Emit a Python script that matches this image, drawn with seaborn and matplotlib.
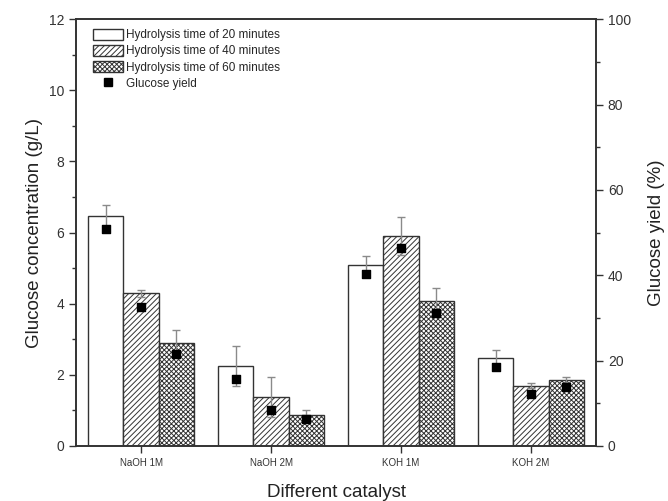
import matplotlib
matplotlib.use("Agg")
import matplotlib.pyplot as plt
from matplotlib.lines import Line2D
from matplotlib.patches import Patch
from matplotlib.ticker import MultipleLocator
import numpy as np
import pandas as pd
import seaborn as sns

catalysts = ["NaOH 1M", "NaOH 2M", "KOH 1M", "KOH 2M"]
times = ["Hydrolysis time of 20 minutes", "Hydrolysis time of 40 minutes",
         "Hydrolysis time of 60 minutes"]

# glucose concentration (g/L), one list per hydrolysis time
conc_20 = [6.46, 2.26, 5.10, 2.47]
conc_40 = [4.29, 1.38, 5.90, 1.70]
conc_60 = [2.89, 0.88, 4.08, 1.85]

# standard deviations
err_20 = [0.31, 0.56, 0.25, 0.22]
err_40 = [0.10, 0.57, 0.54, 0.06]
err_60 = [0.37, 0.13, 0.35, 0.09]

# glucose yield (%)
yield_20 = [50.8, 15.7, 40.3, 18.6]
yield_40 = [32.6, 8.4, 46.3, 12.2]
yield_60 = [21.5, 6.3, 31.1, 13.8]

hatches = ["", "//////", "xxxxxxx"]

df = pd.DataFrame({
    "catalyst": catalysts * 3,
    "time": np.repeat(times, len(catalysts)),
    "conc": conc_20 + conc_40 + conc_60,
    "err": err_20 + err_40 + err_60,
    "yield": yield_20 + yield_40 + yield_60,
})

sns.set_theme(style="ticks")
plt.rcParams["font.family"] = ["Liberation Sans", "DejaVu Sans"]
plt.rcParams["hatch.color"] = "#555555"
plt.rcParams["hatch.linewidth"] = 0.7

fig = plt.figure(figsize=(6.68, 5.01), dpi=100)
ax = fig.add_axes([0.1138, 0.1098, 0.7784, 0.852])

sns.barplot(data=df, x="catalyst", y="conc", hue="time", order=catalysts,
            hue_order=times, errorbar=None, width=0.81,
            palette=["white"] * 3, edgecolor="#333333", linewidth=1.0,
            legend=False, ax=ax)

ax2 = ax.twinx()
for container, t, h in zip(ax.containers, times, hatches):
    sub = df[df["time"] == t].set_index("catalyst").loc[catalysts]
    xs = [p.get_x() + p.get_width() / 2 for p in container.patches]
    for p in container.patches:
        p.set_hatch(h)
    ax.errorbar(xs, sub["conc"], yerr=sub["err"], fmt="none", ecolor="#8a8a8a",
                elinewidth=1.0, capsize=3, capthick=1.0, zorder=5)
    ax2.scatter(xs, sub["yield"], marker="s", s=40, color="black", zorder=6)

ax.set_xlim(-0.5, 3.5)
ax.set_ylim(0, 12)
ax.yaxis.set_major_locator(MultipleLocator(2))
ax.yaxis.set_minor_locator(MultipleLocator(1))
ax2.set_ylim(0, 100)
ax2.yaxis.set_major_locator(MultipleLocator(20))
ax2.yaxis.set_minor_locator(MultipleLocator(10))

for a in (ax, ax2):
    for s in a.spines.values():
        s.set_visible(True)
        s.set_linewidth(1.2)
        s.set_color("#333333")
    a.tick_params(which="major", length=5, width=1.0, color="#333333",
                  labelsize=10, labelcolor="#333333")
    a.tick_params(which="minor", length=3, width=1.0, color="#333333")
ax.tick_params(axis="x", labelsize=7)

ax.set_xlabel("Different catalyst", fontsize=13.5, color="#222222", labelpad=12)
ax.set_ylabel("Glucose concentration (g/L)", fontsize=13.5, color="#222222")
ax2.set_ylabel("Glucose yield (%)", fontsize=13.5, color="#222222", labelpad=12)

handles = [Patch(facecolor="white", edgecolor="#333333", hatch=h, label=t)
           for t, h in zip(times, hatches)]
handles.append(Line2D([], [], marker="s", linestyle="none", color="black",
                      markersize=6, label="Glucose yield"))
ax.legend(handles=handles, loc="upper left", bbox_to_anchor=(0.015, 1.0),
          frameon=False, fontsize=8.5, handlelength=2.5, handleheight=1.1,
          labelspacing=0.3, borderaxespad=0.4, borderpad=0.4,
          handletextpad=0.3)

fig.savefig("out.png", dpi=100)
